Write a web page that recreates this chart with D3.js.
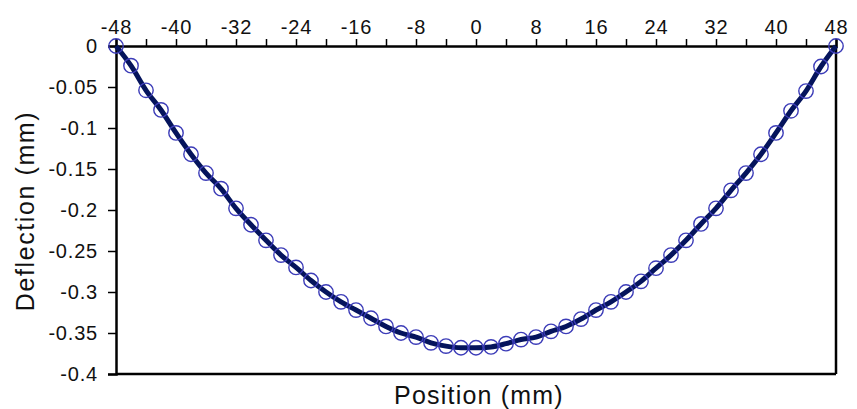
<!DOCTYPE html>
<html>
<head>
<meta charset="utf-8">
<script src="https://cdn.jsdelivr.net/npm/d3@7"></script>
<style>
  body { margin: 0; background: #fff; }
  svg { display: block; font-family: "Liberation Sans", Arial, sans-serif; }
  .axis path, .axis line { stroke: #000; }
  .axis text { fill: #111; font-size: 20px; }
</style>
</head>
<body>
<div id="chart"></div>
<script>
// position along the beam (mm) and measured deflection (mm)
var positions = [-48, -46, -44, -42, -40, -38, -36, -34, -32, -30, -28, -26, -24,
  -22, -20, -18, -16, -14, -12, -10, -8, -6, -4, -2, 0,
  2, 4, 6, 8, 10, 12, 14, 16, 18, 20, 22, 24, 26, 28, 30, 32, 34, 36, 38, 40, 42, 44, 46, 48]
var deflections = [0, -0.024, -0.054, -0.078, -0.106, -0.132, -0.155, -0.174, -0.198, -0.218, -0.237, -0.255, -0.270,
  -0.286, -0.300, -0.312, -0.322, -0.332, -0.342, -0.350, -0.355, -0.362, -0.366, -0.368, -0.368,
  -0.367, -0.363, -0.358, -0.355, -0.348, -0.342, -0.333, -0.322, -0.312, -0.300, -0.287, -0.271, -0.255, -0.237, -0.217, -0.198, -0.176, -0.155, -0.132, -0.106, -0.079, -0.055, -0.025, 0]

var xTicks = [-48, -44, -40, -36, -32, -28, -24, -20, -16, -12, -8, -4, 0, 4, 8, 12, 16, 20, 24, 28, 32, 36, 40, 44, 48]
var xLabels = [-48, -40, -32, -24, -16, -8, 0, 8, 16, 24, 32, 40, 48]
var yTicks = [0, -0.05, -0.1, -0.15, -0.2, -0.25, -0.3, -0.35, -0.4]

var data = positions.map(function(p, i){ return {pos: p, def: deflections[i]} })

var width = 857, height = 409
var margin = {left: 116, right: 21, top: 46, bottom: 35}

var svg = d3.select('#chart').append('svg')
  .attr('width', width).attr('height', height)

var x = d3.scaleLinear().domain([-48, 48]).range([margin.left, width - margin.right])
var y = d3.scaleLinear().domain([0, -0.4]).range([margin.top, height - margin.bottom])

// frame lines on the bottom and right
svg.append('line')
  .attr('x1', x(-48)).attr('x2', x(48)).attr('y1', y(-0.4)).attr('y2', y(-0.4))
  .attr('stroke', '#000').attr('stroke-width', 2.5)
svg.append('line')
  .attr('x1', x(48)).attr('x2', x(48)).attr('y1', y(0)).attr('y2', y(-0.4))
  .attr('stroke', '#000').attr('stroke-width', 2.5)

var xAxis = svg.append('g').attr('class', 'axis')
  .attr('transform', 'translate(0,' + y(0) + ')')
  .call(d3.axisTop(x).tickValues(xTicks).tickSizeOuter(0).tickSize(7).tickPadding(5)
    .tickFormat(function(d){ return xLabels.indexOf(d) >= 0 ? String(d) : '' }))
xAxis.select('.domain').attr('stroke-width', 2.5)
xAxis.selectAll('.tick line').attr('stroke-width', 1.5)

var yAxis = svg.append('g').attr('class', 'axis')
  .attr('transform', 'translate(' + x(-48) + ',0)')
  .call(d3.axisLeft(y).tickValues(yTicks).tickSizeOuter(0).tickSize(8).tickPadding(10)
    .tickFormat(function(d){ return String(d) }))
yAxis.select('.domain').attr('stroke-width', 2.5)
yAxis.selectAll('.tick line').attr('stroke-width', 1.5)

svg.selectAll('.axis text').attr('font-family', '"Liberation Sans", Arial, sans-serif')
  .attr('letter-spacing', '0.8px')

// axis titles
svg.append('text')
  .attr('x', 479).attr('y', 404)
  .attr('text-anchor', 'middle')
  .attr('font-size', 25).attr('letter-spacing', '1.2px').attr('fill', '#111')
  .text('Position (mm)')

svg.append('text')
  .attr('transform', 'translate(34,211) rotate(-90)')
  .attr('text-anchor', 'middle')
  .attr('font-size', 25).attr('letter-spacing', '1.6px').attr('fill', '#111')
  .text('Deflection (mm)')

var line = d3.line()
  .x(function(d){ return x(d.pos) })
  .y(function(d){ return y(d.def) })
  .curve(d3.curveMonotoneX)

svg.append('path').datum(data)
  .attr('d', line)
  .attr('fill', 'none')
  .attr('stroke', '#05145c')
  .attr('stroke-width', 5)

svg.selectAll('circle.pt').data(data).enter().append('circle')
  .attr('class', 'pt')
  .attr('cx', function(d){ return x(d.pos) })
  .attr('cy', function(d){ return y(d.def) })
  .attr('r', 7.2)
  .attr('fill', 'none')
  .attr('stroke', '#3c3cb8')
  .attr('stroke-width', 1.4)
</script>
</body>
</html>
